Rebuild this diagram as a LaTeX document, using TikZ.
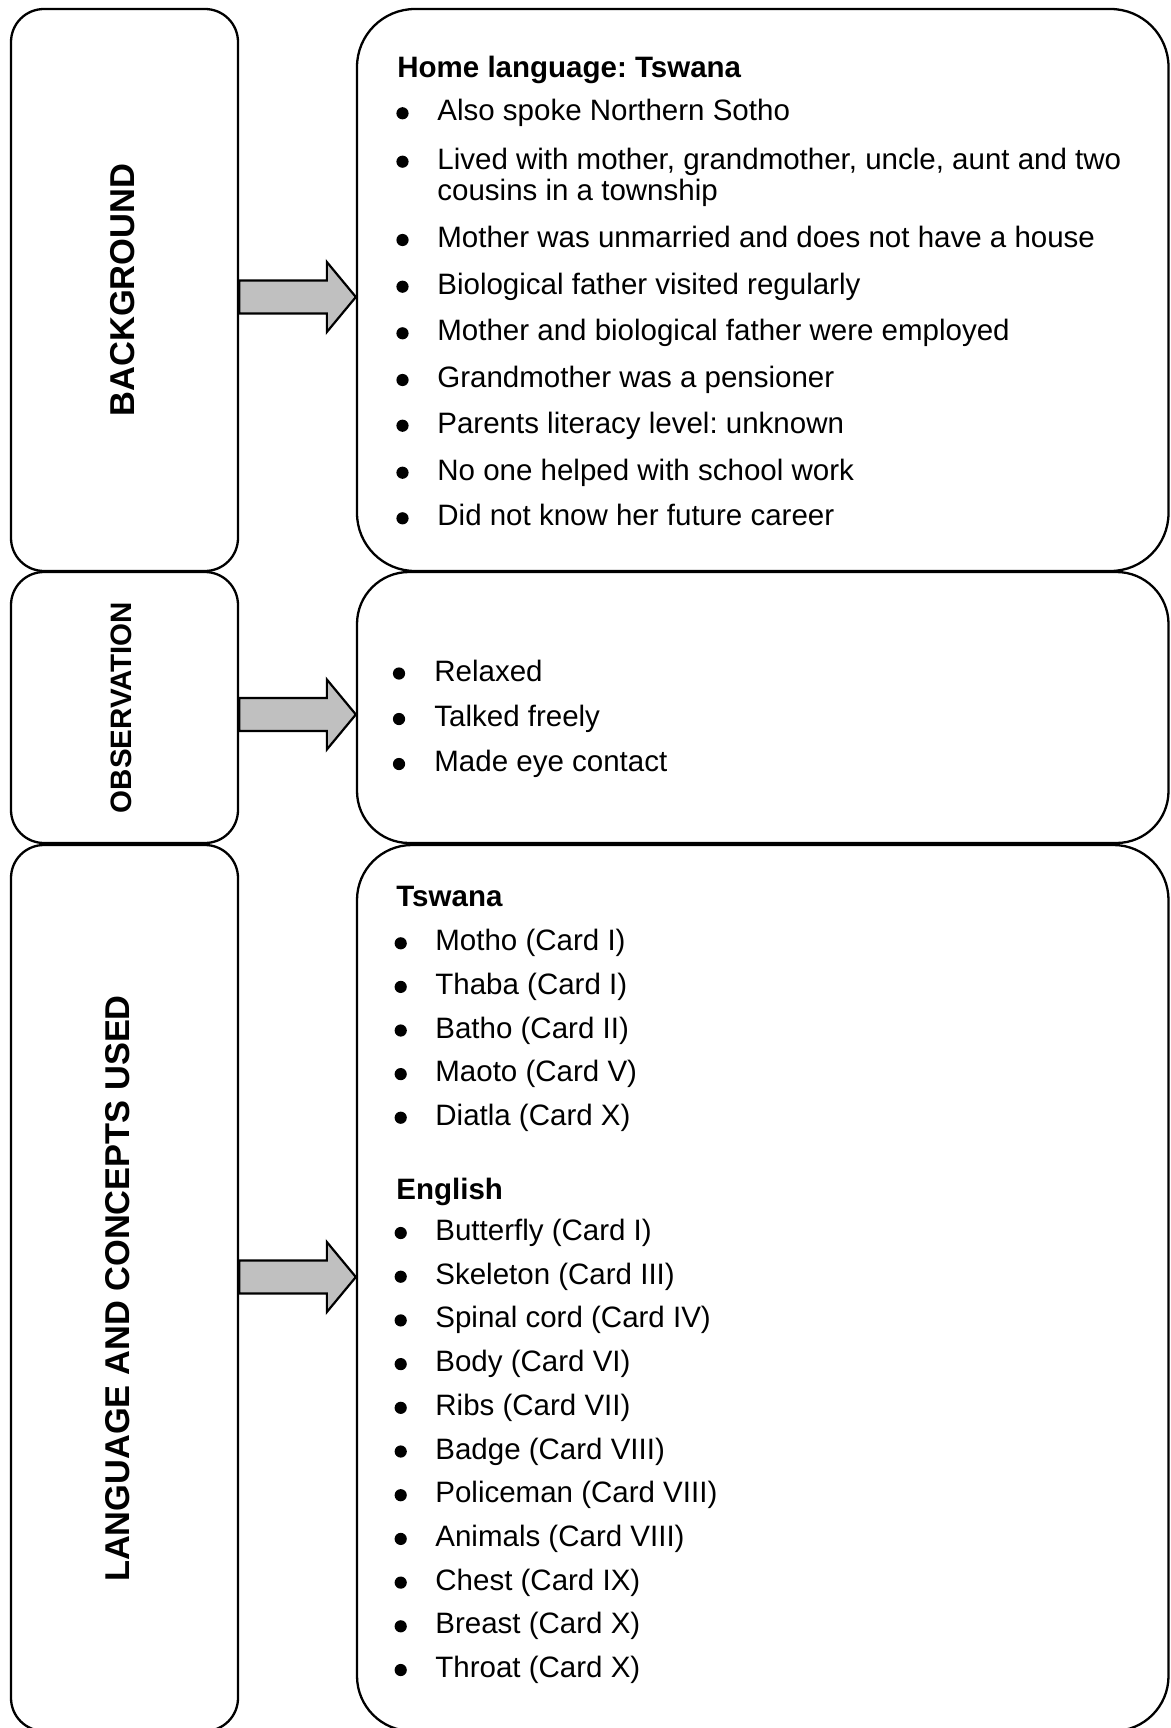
\documentclass[tikz,border=0pt]{standalone}
\usepackage{fontspec}
\setmainfont{Liberation Sans}
\frenchspacing
\usetikzlibrary{calc}
\definecolor{arrowfill}{RGB}{192,192,192}

% one bullet point: name, bullet x, text x, y, text
\newcommand\listentry[5]{%
  \node[bulletdot] (#1b) at (#2,#4) {};
  \node[entry] (#1) at (#3,#4) {#5};}

% block arrow from the east side of #1 to the west side of #2 at height #3
\newcommand\fatarrow[3]{%
  \coordinate (#1-s) at (#1.east |- 0,#3);
  \coordinate (#2-t) at (#2.west |- 0,#3);
  \draw[blockarrow] ($(#1-s)+(0,-16.5)$) -- ($(#2-t)+(-29,-16.5)$)
    -- ($(#2-t)+(-29,-35)$) -- (#2-t) -- ($(#2-t)+(-29,35)$)
    -- ($(#2-t)+(-29,16.5)$) -- ($(#1-s)+(0,16.5)$) -- cycle;}

\begin{document}
\begin{tikzpicture}[x=0.5pt,y=-0.5pt,
  box/.style={draw=black,line width=1.15pt,inner sep=0pt,fill=white},
  sidebox/.style={box,minimum width=113.5pt,rounded corners=16.5pt},
  mainbox/.style={box,minimum width=405.75pt},
  sidelabel/.style={rotate=90,inner sep=0pt},
  entry/.style={anchor=base west,yshift=-3.75pt,inner sep=0pt,font=\fontsize{14.75pt}{15.5pt}\selectfont},
  bulletdot/.style={circle,fill=black,inner sep=0pt,minimum size=6.1pt},
  blockarrow/.style={draw=black,fill=arrowfill,line width=1.1pt,line join=miter}]
\useasboundingbox (0,0) rectangle (1171,1728);

% boxes
\node[sidebox,minimum height=281pt] (bgL) at (124.5,290) {};
\node[mainbox,minimum height=281pt,rounded corners=29pt] (bgR) at (762.75,290) {};
\node[sidebox,minimum height=135.5pt] (obL) at (124.5,707.5) {};
\node[mainbox,minimum height=135.5pt,rounded corners=26pt] (obR) at (762.75,707.5) {};
\node[sidebox,minimum height=443pt] (lgL) at (124.5,1288) {};
\node[mainbox,minimum height=443pt,rounded corners=27.5pt] (lgR) at (762.75,1288) {};

% side labels
\node[sidelabel,font=\fontsize{17.25pt}{20pt}\selectfont\bfseries] (bgLabel) at (122.5,290) {BACKGROUND};
\node[sidelabel,font=\fontsize{14.75pt}{17pt}\selectfont\bfseries] (obLabel) at (121,707.5) {OBSERVATION};
\node[sidelabel,font=\fontsize{17.2pt}{20pt}\selectfont\bfseries] (lgLabel) at (117.5,1288.5) {LANGUAGE AND CONCEPTS USED};

% arrows
\fatarrow{bgL}{bgR}{297}
\fatarrow{obL}{obR}{714.5}
\fatarrow{lgL}{lgR}{1277}

% background
\node[entry] (bgHead) at (397,70) {\bfseries Home language: Tswana};
\listentry{bg1}{402.5}{437}{113.3}{Also spoke Northern Sotho}
\listentry{bg2}{402.5}{437}{161.7}{Lived with mother, grandmother, uncle, aunt and two}
\node[entry] (bg2c) at (437,193.3) {cousins in a township};
\listentry{bg3}{402.5}{437}{240}{Mother was unmarried and does not have a house}
\listentry{bg4}{402.5}{437}{286.7}{Biological father visited regularly}
\listentry{bg5}{402.5}{437}{333.3}{Mother and biological father were employed}
\listentry{bg6}{402.5}{437}{380}{Grandmother was a pensioner}
\listentry{bg7}{402.5}{437}{425.7}{Parents literacy level: unknown}
\listentry{bg8}{402.5}{437}{472.7}{No one helped with school work}
\listentry{bg9}{402.5}{437}{518.3}{Did not know her future career}

% observation
\listentry{ob1}{399}{434}{673.5}{Relaxed}
\listentry{ob2}{399}{434}{719}{Talked freely}
\listentry{ob3}{399}{434}{764}{Made eye contact}

% language and concepts
\node[entry] (lgHeadA) at (396,899) {\bfseries Tswana};
\listentry{lt1}{400.7}{435}{943.3}{Motho (Card I)}
\listentry{lt2}{400.7}{435}{986.9}{Thaba (Card I)}
\listentry{lt3}{400.7}{435}{1030.5}{Batho (Card II)}
\listentry{lt4}{400.7}{435}{1074.1}{Maoto (Card V)}
\listentry{lt5}{400.7}{435}{1117.7}{Diatla (Card X)}
\node[entry] (lgHeadB) at (396,1192) {\bfseries English};
\listentry{le1}{400.7}{435}{1233}{Butterfly (Card I)}
\listentry{le2}{400.7}{435}{1276.7}{Skeleton (Card III)}
\listentry{le3}{400.7}{435}{1320.4}{Spinal cord (Card IV)}
\listentry{le4}{400.7}{435}{1364.1}{Body (Card VI)}
\listentry{le5}{400.7}{435}{1407.8}{Ribs (Card VII)}
\listentry{le6}{400.7}{435}{1451.5}{Badge (Card VIII)}
\listentry{le7}{400.7}{435}{1495.2}{Policeman (Card VIII)}
\listentry{le8}{400.7}{435}{1538.9}{Animals (Card VIII)}
\listentry{le9}{400.7}{435}{1582.6}{Chest (Card IX)}
\listentry{le10}{400.7}{435}{1626.3}{Breast (Card X)}
\listentry{le11}{400.7}{435}{1670}{Throat (Card X)}
\end{tikzpicture}
\end{document}
